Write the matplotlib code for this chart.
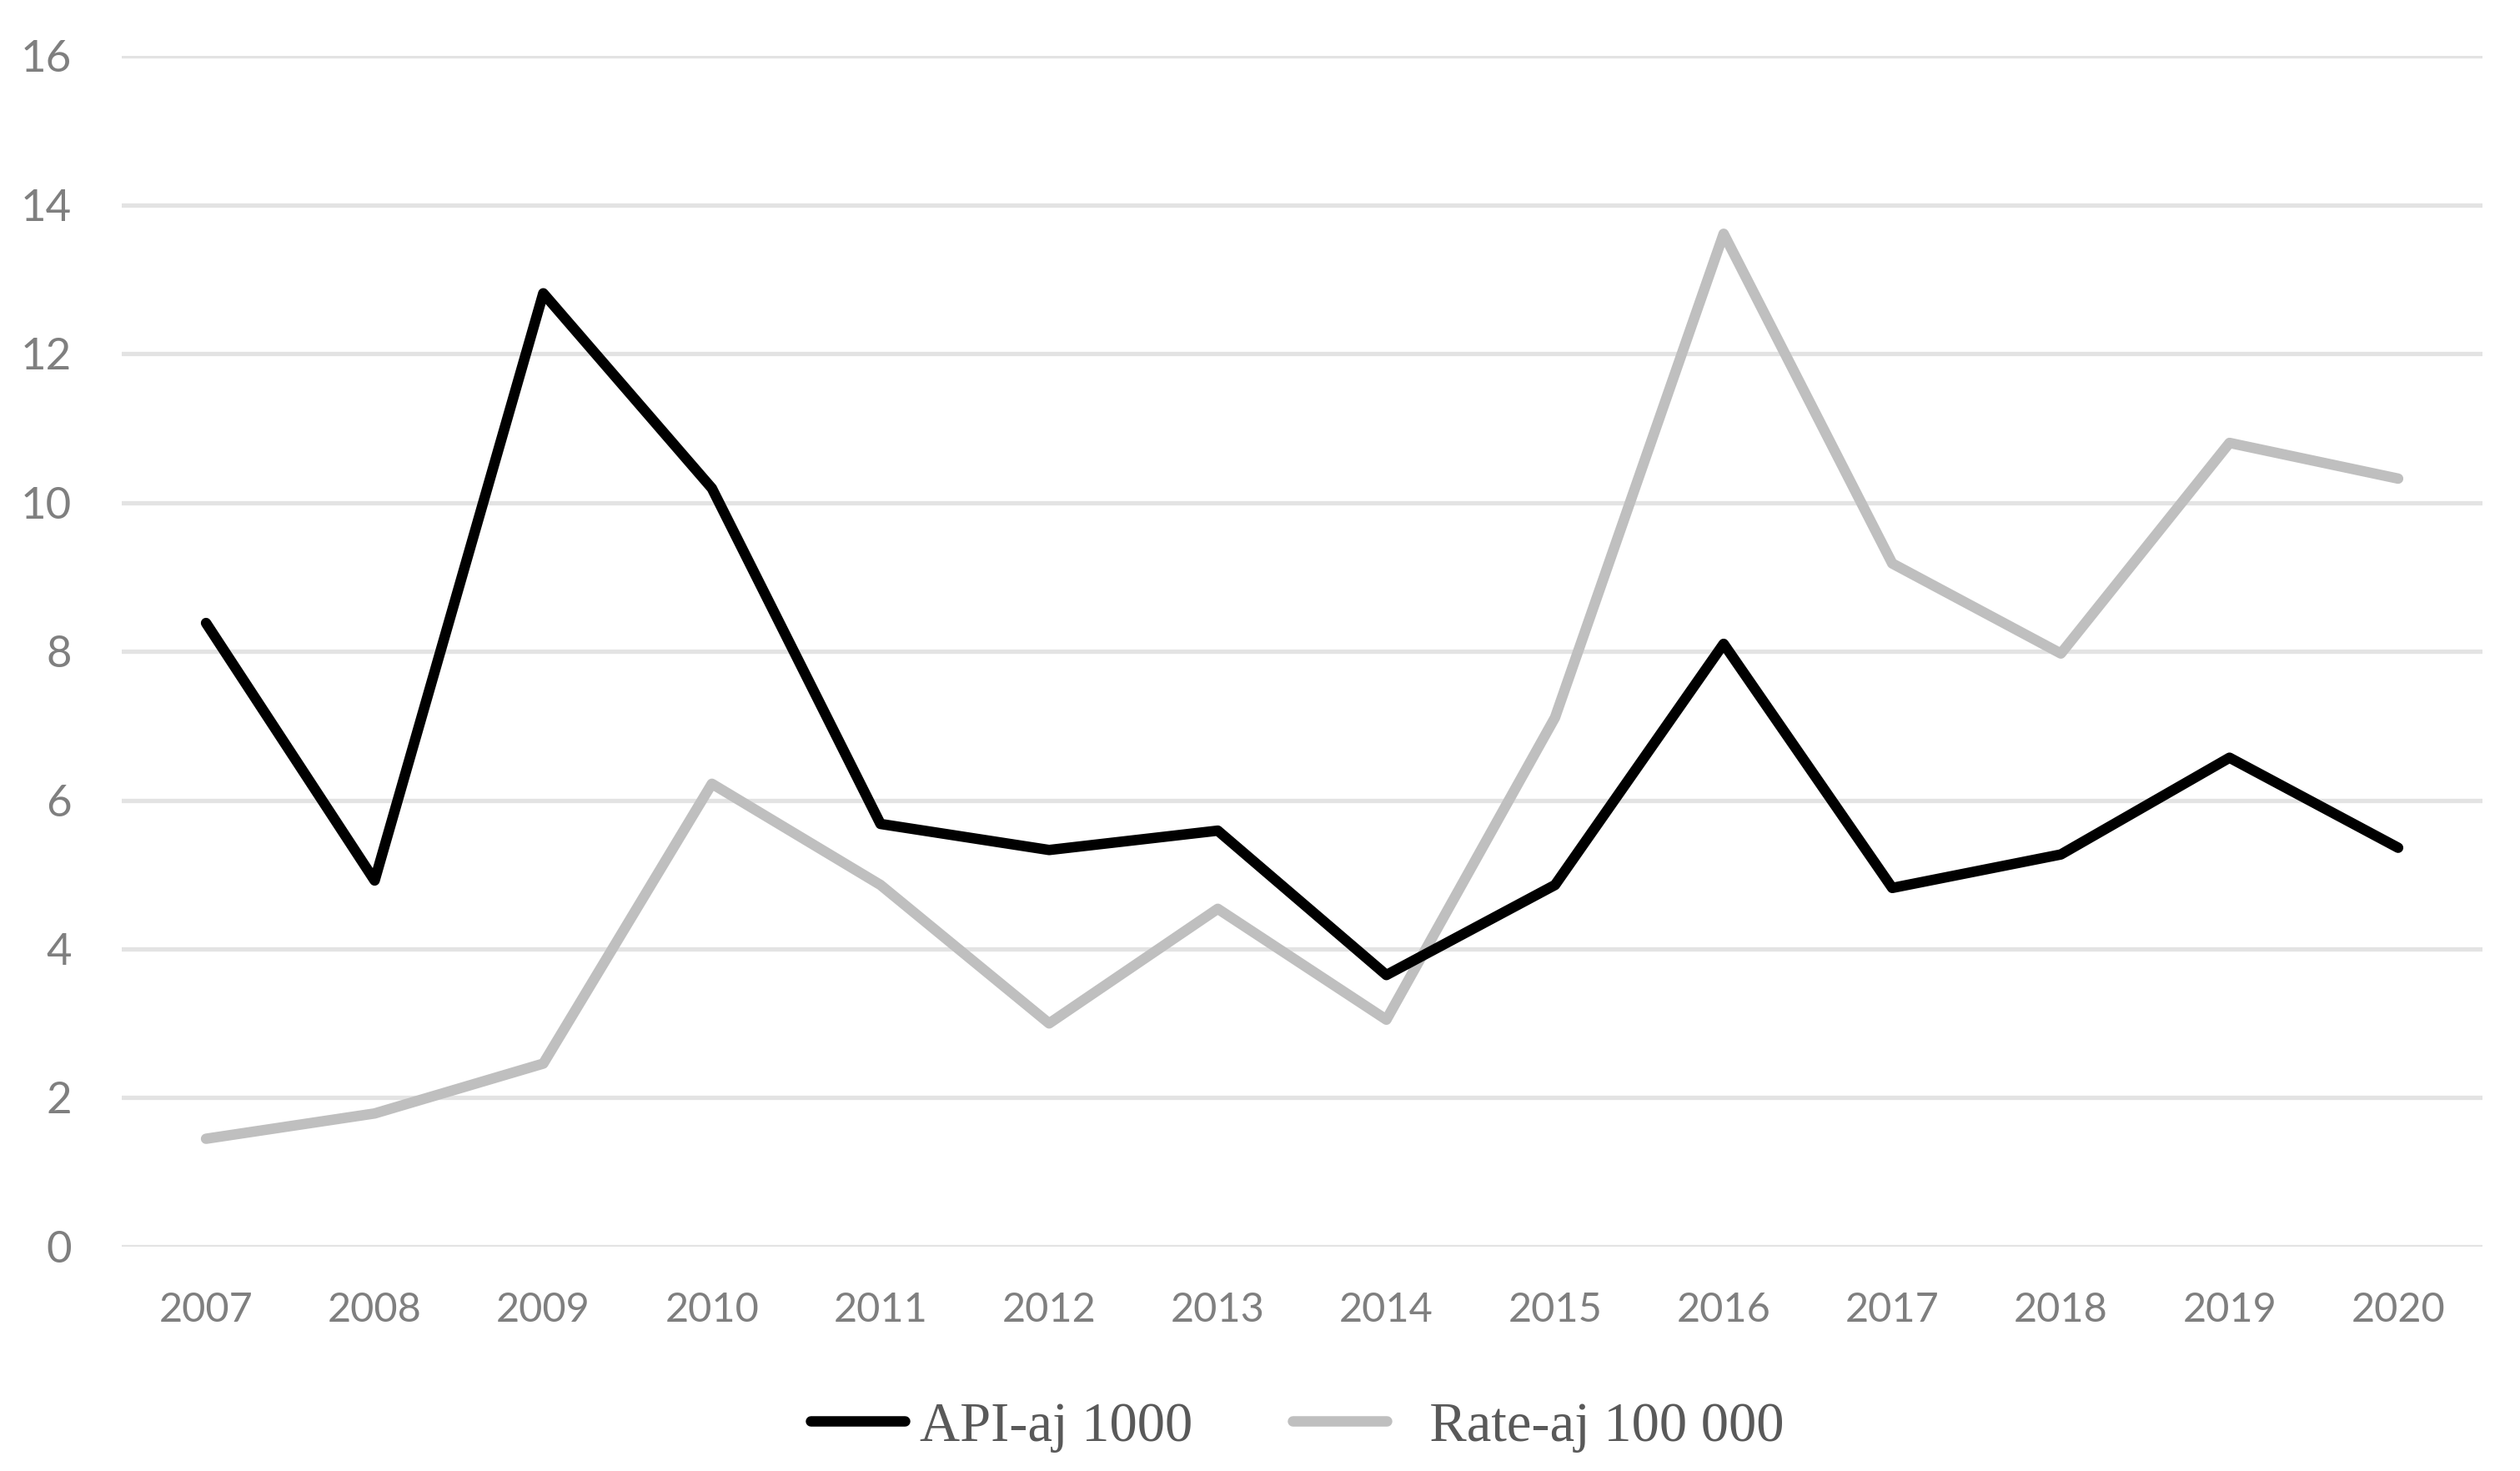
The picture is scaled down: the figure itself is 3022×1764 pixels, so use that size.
import matplotlib
matplotlib.use("Agg")
import matplotlib.pyplot as plt
import numpy as np

years = ["2007", "2008", "2009", "2010", "2011", "2012", "2013",
         "2014", "2015", "2016", "2017", "2018", "2019", "2020"]
api_1000 = [8.38, 4.92, 12.81, 10.19, 5.68, 5.33, 5.59,
            3.65, 4.86, 8.10, 4.82, 5.27, 6.57, 5.36]
rate_100000 = [1.45, 1.79, 2.46, 6.22, 4.86, 3.00, 4.54,
               3.05, 7.11, 13.61, 9.18, 7.97, 10.80, 10.32]
yticks = [0, 2, 4, 6, 8, 10, 12, 14, 16]

fig = plt.figure(figsize=(30.22, 17.64), dpi=100)
ax = fig.add_axes([0.0483, 0.1525, 0.9368, 0.8095])

x = np.arange(len(years))
ax.plot(x, api_1000, color="#000000", lw=9, solid_joinstyle="round",
        solid_capstyle="round", label="API-aj 1000", zorder=3)
ax.plot(x, rate_100000, color="#BFBFBF", lw=9, solid_joinstyle="round",
        solid_capstyle="round", label="  Rate-aj 100 000", zorder=2)

ax.set_xlim(-0.5, len(years) - 0.5)
ax.set_ylim(0, 16)
ax.set_yticks(yticks)
ax.set_yticklabels([str(v) for v in yticks])
ax.set_xticks(x)
ax.set_xticklabels(years)
ax.yaxis.grid(True, color="#E3E3E3", lw=3.8)
ax.set_axisbelow(True)
for s in ax.spines.values():
    s.set_visible(False)
ax.tick_params(axis="both", length=0, labelcolor="#7F7F7F")
ax.tick_params(axis="x", labelsize=35, pad=39)
ax.tick_params(axis="y", labelsize=38, pad=43)
for lab in ax.get_xticklabels() + ax.get_yticklabels():
    lab.set_family("Lato")

leg = fig.legend(loc="center", bbox_to_anchor=(0.5148, 0.03), ncol=2,
                 frameon=False, handlelength=1.7, handletextpad=0.27,
                 columnspacing=1.8,
                 prop={"family": "Liberation Serif", "size": 48})
for t in leg.get_texts():
    t.set_color("#595959")
for h in leg.get_lines():
    h.set_solid_capstyle("round")

fig.savefig("out.png", dpi=100)
